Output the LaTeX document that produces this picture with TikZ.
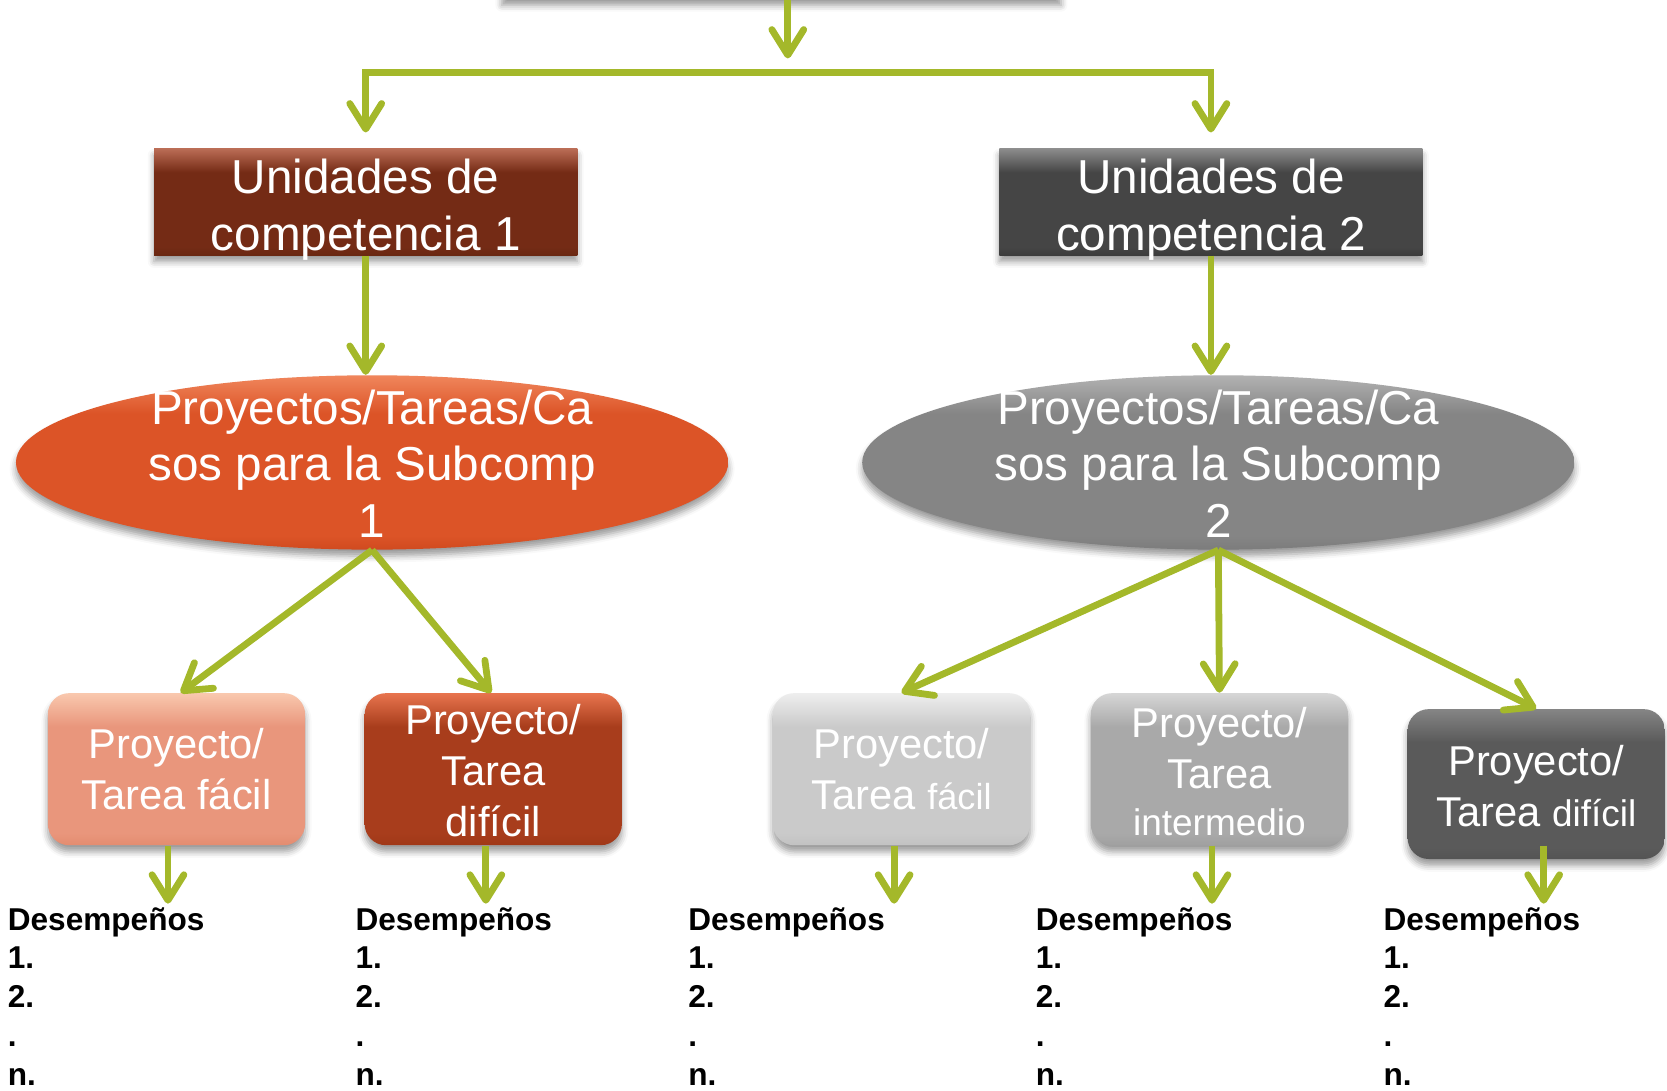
\documentclass[tikz,border=0pt]{standalone}
\usepackage{fontspec}
\setmainfont{Liberation Sans}
\usetikzlibrary{arrows.meta,shapes.geometric,shadows.blur}
\colorlet{bvtop}{white}\colorlet{bvmid}{gray}\colorlet{bvbot}{black}
\pgfdeclareverticalshading[bvtop,bvmid,bvbot]{bevel}{100bp}{color(0bp)=(bvbot); color(25bp)=(bvbot); color(29bp)=(bvmid); color(64bp)=(bvmid); color(75bp)=(bvtop); color(100bp)=(bvtop)}
\definecolor{conn}{HTML}{A4B82A}
\begin{document}
\begin{tikzpicture}[x=0.5pt,y=-0.5pt,
  bev/.style n args={3}{/utils/exec={\definecolor{bvtop}{HTML}{#1}\definecolor{bvmid}{HTML}{#2}\definecolor{bvbot}{HTML}{#3}},shading=bevel},
  shp/.style={draw=none,inner sep=0pt,blur shadow={shadow xshift=0pt,shadow yshift=-3pt,shadow blur radius=3pt,shadow opacity=40}},
  ubox/.style={shp,rectangle,minimum width=199pt,minimum height=50pt},
  ell/.style={shp,ellipse,minimum width=335pt,minimum height=82pt},
  tbox/.style={shp,rectangle,rounded corners=10pt,minimum width=121pt,minimum height=71.5pt},
  bigtxt/.style={text=white,align=center,inner sep=0pt,font=\fontsize{22.4}{26.6}\selectfont},
  boxtxt/.style={text=white,align=center,inner sep=0pt,font=\fontsize{19.6}{24}\selectfont},
  lst/.style={anchor=north west,align=left,inner sep=0pt,font=\bfseries\fontsize{14.85}{18.25}\selectfont},
  link/.style={draw=conn,line width=3.2pt},
  arr/.style={link,-{Straight Barb[length=12pt,width=15pt,round]}}
]
\useasboundingbox (0,0) rectangle (1568,1026);
% top (mostly out of frame)
\node[shp,fill=white,minimum width=263pt,minimum height=40pt] (top) at (735,-41) {};
% level 1
\node[ubox,bev={BA6C55}{742B15}{6A2812},label={[bigtxt,yshift=-3.5pt]center:{Unidades de\\competencia 1}}] (u1) at (344,190) {};
\node[ubox,bev={8C8C8C}{454545}{3C3C3C},label={[bigtxt,yshift=-3.5pt]center:{Unidades de\\competencia 2}}] (u2) at (1139,190) {};
% level 2
\node[ell,bev={F0865C}{DC5427}{D04A1F},label={[bigtxt,yshift=-0.5pt]center:{Proyectos/Tareas/Ca\\sos para la Subcomp\\1}}] (e1) at (350,435) {};
\node[ell,bev={B2B2B2}{858585}{7C7C7C},label={[bigtxt,yshift=-0.5pt]center:{Proyectos/Tareas/Ca\\sos para la Subcomp\\2}}] (e2) at (1146,435) {};
% level 3
\node[tbox,bev={F9C8AE}{E9967C}{E38C70},label={[boxtxt]center:{Proyecto/\\Tarea fácil}}] (f1) at (166,723.5) {};
\node[tbox,bev={E8744E}{A83D1C}{A03818},label={[boxtxt,yshift=-0.5pt]center:{Proyecto/\\Tarea\\difícil}}] (d1) at (464,723.5) {};
\node[tbox,bev={EEEEEE}{CACACA}{C2C2C2},label={[boxtxt]center:{Proyecto/\\Tarea {\fontsize{17}{20}\selectfont fácil}}}] (f2) at (848,723.5) {};
\node[tbox,bev={D6D6D6}{A9A9A9}{A0A0A0},label={[boxtxt,yshift=-1pt]center:{Proyecto/\\Tarea\\[-2pt]{\fontsize{17.4}{20}\selectfont intermedio}}}] (m2) at (1147,723.5) {};
\node[tbox,bev={858585}{5A5A5A}{545454},minimum height=70.5pt,label={[boxtxt,yshift=-1pt]center:{Proyecto/\\Tarea {\fontsize{17.4}{20}\selectfont difícil}}}] (h2) at (1445,737.5) {};
% lists
\node[lst] (l1) at (7,853) {Desempeños\\1.\\2.\\.\\n.};
\node[lst] (l2) at (334,853) {Desempeños\\1.\\2.\\.\\n.};
\node[lst] (l3) at (647,853) {Desempeños\\1.\\2.\\.\\n.};
\node[lst] (l4) at (974,853) {Desempeños\\1.\\2.\\.\\n.};
\node[lst] (l5) at (1301,853) {Desempeños\\1.\\2.\\.\\n.};
% connectors
\coordinate (t1) at (741,55);
\coordinate (j) at (741,68);
\draw[arr] (t1 |- top.south) -- (t1);
\draw[link,line cap=rect] (u1.north |- j) -- (u2.north |- j);
\draw[arr] (u1.north |- j) -- ([yshift=7.5pt]u1.north);
\draw[arr] (u2.north |- j) -- ([yshift=7.5pt]u2.north);
\draw[arr] (u1.south) -- (u1.south |- e1.north);
\draw[arr] (u2.south) -- (u2.south |- e2.north);
\draw[arr] (e1.south) -- ([xshift=2pt]f1.north);
\draw[arr] (e1.south) -- ([xshift=-1pt]d1.north);
\draw[arr] (e2.south) -- (f2.north);
\draw[arr] (e2.south) -- (m2.north);
\draw[arr] (e2.south) -- (h2.north);
\coordinate (b1) at (158,850);
\coordinate (b2) at (457,850);
\coordinate (b3) at (841,850);
\coordinate (b4) at (1140,850);
\coordinate (b5) at (1452,850);
\draw[arr] (b1 |- f1.south) -- (b1);
\draw[arr] (b2 |- d1.south) -- (b2);
\draw[arr] (b3 |- f2.south) -- (b3);
\draw[arr] (b4 |- m2.south) -- (b4);
\draw[arr] (b5 |- f2.south) -- (b5);
\end{tikzpicture}
\end{document}
